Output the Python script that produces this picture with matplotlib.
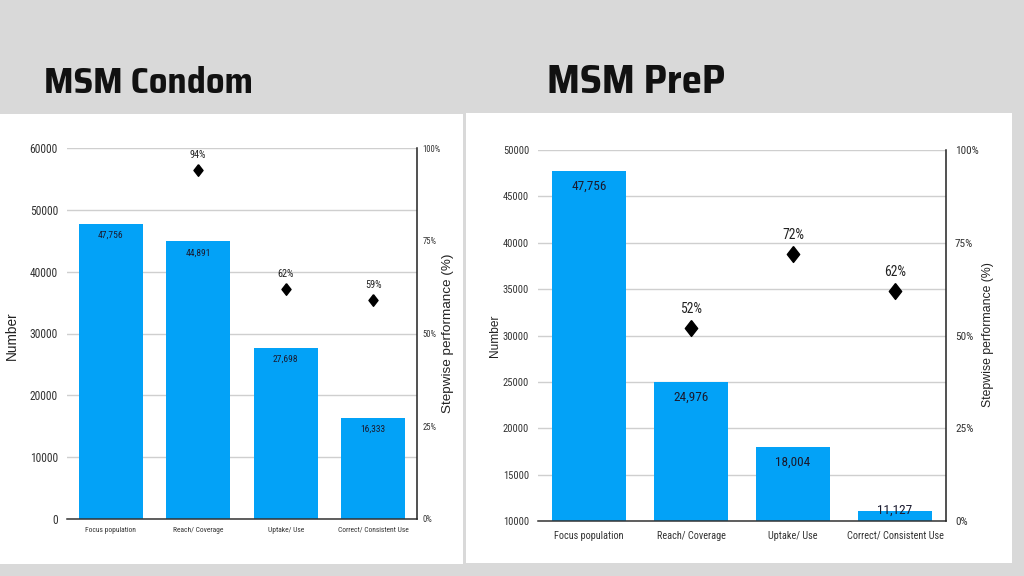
import matplotlib
matplotlib.use("Agg")
import matplotlib.pyplot as plt
from matplotlib.patches import Rectangle
from matplotlib.ticker import FuncFormatter, FixedLocator

categories = ["Focus population", "Reach/ Coverage", "Uptake/ Use", "Correct/ Consistent Use"]

condom_title = "MSM Condom"
condom_values = [47756, 44891, 27698, 16333]
condom_pct = [None, 94, 62, 59]
condom_yticks = [0, 10000, 20000, 30000, 40000, 50000, 60000]

prep_title = "MSM PreP"
prep_values = [47756, 24976, 18004, 11127]
prep_pct = [None, 52, 72, 62]
prep_yticks = [10000, 15000, 20000, 25000, 30000, 35000, 40000, 45000, 50000]

pct_ticks = [0, 25, 50, 75, 100]

BAR = "#03A2F7"
BG = "#d9d9d9"
NARROW = ["Roboto Condensed", "Liberation Sans", "DejaVu Sans"]
SANS = ["Liberation Sans", "DejaVu Sans"]
TITLE = ["Saira SemiCondensed", "Liberation Sans", "DejaVu Sans"]

W, H = 1024, 576
fig = plt.figure(figsize=(W / 100, H / 100), dpi=100, facecolor=BG)


def px_rect(x0, y0, x1, y1):
    return [x0 / W, 1 - y1 / H, (x1 - x0) / W, (y1 - y0) / H]


# white panels
for (x0, y0, x1, y1) in [(0, 114, 463, 564), (466, 113, 1012, 563)]:
    r = px_rect(x0, y0, x1, y1)
    fig.patches.append(Rectangle((r[0], r[1]), r[2], r[3], transform=fig.transFigure,
                                 facecolor="white", edgecolor="none", zorder=-5))

# titles
fig.text(44 / W, 1 - 93 / H, condom_title, family=TITLE, fontweight="bold", fontsize=26.5,
         va="baseline", ha="left", color="#111111")
fig.text(547 / W, 1 - 93 / H, prep_title, family=TITLE, fontweight="bold", fontsize=29.5,
         va="baseline", ha="left", color="#111111")

diamond = [(0, 1), (0.78, 0), (0, -1), (-0.78, 0), (0, 1)]


def draw(rect, values, pcts, yticks, s):
    ax = fig.add_axes(rect)
    ax.set_facecolor("none")
    x = list(range(len(categories)))
    ymin, ymax = yticks[0], yticks[-1]
    ax.bar(x, [v - ymin for v in values], bottom=ymin, width=0.73, color=BAR, zorder=2)
    ax.set_xlim(-0.5, len(categories) - 0.5)
    ax.set_ylim(ymin, ymax)
    ax.yaxis.set_major_locator(FixedLocator(yticks))
    ax.yaxis.set_major_formatter(FuncFormatter(lambda v, p: f"{int(v)}"))
    ax.grid(axis="y", color="#cfcfcf", lw=1, zorder=0)
    ax.set_axisbelow(True)
    for sp in ["left", "top", "right"]:
        ax.spines[sp].set_visible(False)
    ax.spines["bottom"].set_color("#333333")
    ax.spines["bottom"].set_linewidth(1.1)
    ax.set_xticks(x)
    ax.set_xticklabels(categories, family=NARROW, fontsize=s["cat"], color="#333333")
    ax.tick_params(axis="x", length=0, pad=s["catpad"])
    ax.tick_params(axis="y", length=0, pad=s["ypad"], labelsize=s["ytick"], colors="#333333")
    for lab in ax.get_yticklabels():
        lab.set_family(NARROW)
    for xi, v in zip(x, values):
        if (v - ymin) < 0.06 * (ymax - ymin):
            ax.annotate(f"{v:,}", (xi, v), xytext=(0, 0), textcoords="offset points",
                        ha="center", va="center", fontsize=s["val"], family=NARROW,
                        color="#1a1a2e", zorder=4)
        else:
            ax.annotate(f"{v:,}", (xi, v), xytext=(0, -s["valoff"]), textcoords="offset points",
                        ha="center", va="top", fontsize=s["val"], family=NARROW,
                        color="#1a1a2e", zorder=4)

    ax2 = ax.twinx()
    ax2.set_ylim(0, 100)
    ax2.yaxis.set_major_locator(FixedLocator(pct_ticks))
    ax2.yaxis.set_major_formatter(FuncFormatter(lambda v, p: f"{int(v)}%"))
    for sp in ["left", "top", "bottom"]:
        ax2.spines[sp].set_visible(False)
    ax2.spines["right"].set_color("#222222")
    ax2.spines["right"].set_linewidth(1.1)
    ax2.tick_params(axis="y", length=0, pad=s["rpad"], labelsize=s["rtick"], colors="#333333")
    for lab in ax2.get_yticklabels():
        lab.set_family(NARROW)
    px = [xi for xi, p in zip(x, pcts) if p is not None]
    py = [p for p in pcts if p is not None]
    ax2.scatter(px, py, marker=diamond, s=s["ms"], color="black", zorder=5)
    for xi, p in zip(px, py):
        ax2.annotate(f"{p}%", (xi, p), xytext=(0, s["pctoff"]), textcoords="offset points",
                     ha="center", va="center", fontsize=s["pct"], family=NARROW, color="#222222")
    return ax, ax2


left_style = dict(cat=5.4, catpad=5.5, ytick=8.3, ypad=6.5, rtick=6.2, rpad=4, val=6.8,
                  valoff=5, ms=70, pct=7.4, pctoff=11)
right_style = dict(cat=7.35, catpad=7, ytick=7.6, ypad=6.5, rtick=8.1, rpad=6.5, val=9.5,
                   valoff=6.5, ms=130, pct=9.8, pctoff=13.5)

draw(px_rect(67, 148, 417, 519), condom_values, condom_pct, condom_yticks, left_style)
draw(px_rect(538, 150, 946, 521), prep_values, prep_pct, prep_yticks, right_style)

# axis titles
fig.text(12 / W, 1 - 336 / H, "Number", rotation=90, family=SANS, fontsize=9.8,
         va="center", ha="center", color="#222222")
fig.text(448 / W, 1 - 333 / H, "Stepwise performance (%)", rotation=90, family=SANS,
         fontsize=9.7, va="center", ha="center", color="#222222")
fig.text(495 / W, 1 - 336 / H, "Number", rotation=90, family=SANS, fontsize=8.6,
         va="center", ha="center", color="#222222")
fig.text(988 / W, 1 - 335 / H, "Stepwise performance (%)", rotation=90, family=SANS,
         fontsize=8.8, va="center", ha="center", color="#222222")

fig.savefig("out.png", dpi=100, facecolor=BG)
